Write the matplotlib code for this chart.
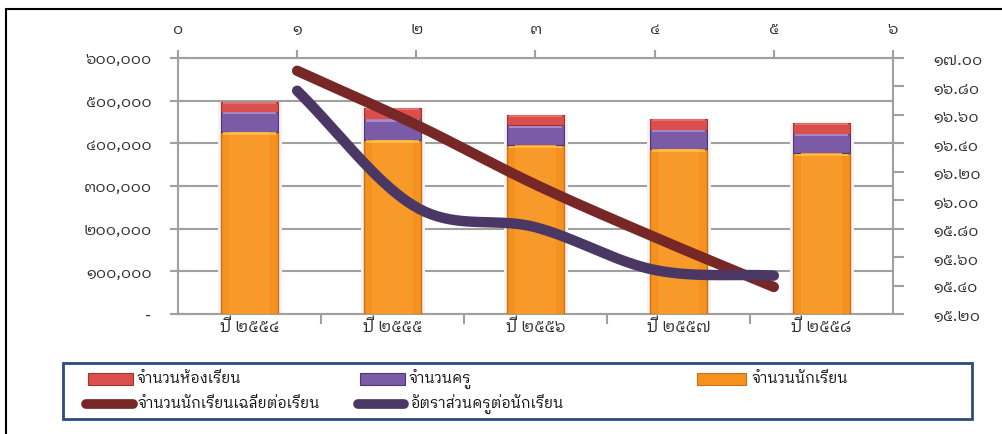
import matplotlib
matplotlib.use("Agg")
import matplotlib.pyplot as plt
import numpy as np
from matplotlib import font_manager as fm
from matplotlib.patches import Rectangle
from matplotlib.lines import Line2D

# ---------------- data ----------------
categories = ["ปี ๒๕๕๔", "ปี ๒๕๕๕", "ปี ๒๕๕๖", "ปี ๒๕๕๗", "ปี ๒๕๕๘"]
students = [427000, 408000, 395000, 387000, 377000]     # จำนวนนักเรียน
teachers = [47000, 49000, 47000, 45000, 46000]          # จำนวนครู
classrooms = [23500, 26000, 25000, 25000, 25000]        # จำนวนห้องเรียน
line_x = [1, 2, 3, 4, 5]
avg_students = [16.91, 16.53, 16.11, 15.74, 15.39]      # จำนวนนักเรียนเฉลี่ยต่อเรียน
teacher_ratio = [16.77, 15.95, 15.81, 15.51, 15.47]     # อัตราส่วนครูต่อนักเรียน

lbl_rooms = "จำนวนห้องเรียน"
lbl_teach = "จำนวนครู"
lbl_stud = "จำนวนนักเรียน"
lbl_avg = "จำนวนนักเรียนเฉลี่ยต่อเรียน"
lbl_ratio = "อัตราส่วนครูต่อนักเรียน"

# ---------------- fonts ----------------
def find_thai_families():
    fams = []
    try:
        from fontTools.ttLib import TTFont
    except Exception:
        return fams
    for f in fm.fontManager.ttflist:
        try:
            tt = TTFont(f.fname, fontNumber=0, lazy=True)
            cmap = tt.getBestCmap()
            if cmap and 0x0E08 in cmap and 0x0E52 in cmap:
                if f.name not in fams:
                    fams.append(f.name)
        except Exception:
            pass
    def score(n):
        s = 0
        nl = n.lower()
        if "thai" in nl: s -= 5
        if "looped" in nl: s -= 2
        if "serif" in nl and "sans" not in nl: s += 3
        if "mono" in nl: s += 4
        return s
    fams.sort(key=score)
    return fams

thai = find_thai_families()
FAM = thai + ["DejaVu Sans"]
plt.rcParams["font.family"] = FAM

TH = str.maketrans("0123456789", "๐๑๒๓๔๕๖๗๘๙")

W, H = 1003, 434
fig = plt.figure(figsize=(W / 100, H / 100), dpi=100)
fig.patch.set_facecolor("white")

L, R, T, B = 178, 893, 58, 314
pos = [L / W, 1 - B / H, (R - L) / W, (B - T) / H]
ax = fig.add_axes(pos)

grey = "#A0A0A0"
txt = "#303030"

x = np.arange(len(categories))
bw = 0.40
stud = np.array(students)
teach = np.array(teachers)
rooms = np.array(classrooms)

# soft shadow
ax.bar(x + 0.005, stud + teach + rooms, bw + 0.05, color="#F2F2F2", zorder=2, linewidth=0)
ax.bar(x, stud, bw, color="#F5921F", edgecolor="#C86F18", linewidth=1.0, zorder=3)
ax.bar(x, stud, bw * 0.7, color="#F89A2A", linewidth=0, zorder=3.2)
ax.bar(x, teach, bw, bottom=stud, color="#7B5BA6", edgecolor="#4E3673", linewidth=0.8, zorder=3)
ax.bar(x, rooms, bw, bottom=stud + teach, color="#DA4F4C", edgecolor="#9E3533", linewidth=0.8, zorder=3)
# highlight strips
ax.bar(x, stud * 0.0 + 6000, bw * 0.92, bottom=stud - 7000, color="#FBC34A", linewidth=0, zorder=3.5, alpha=0.8)
ax.bar(x, teach * 0.0 + 5000, bw * 0.92, bottom=stud + teach - 6000, color="#B195DE", linewidth=0, zorder=3.5, alpha=0.8)
ax.bar(x, rooms * 0.0 + 4000, bw * 0.92, bottom=stud + teach + rooms - 5000, color="#F07A76", linewidth=0, zorder=3.5, alpha=0.8)

ax.set_xlim(-0.5, len(categories) - 0.5)
ax.set_ylim(0, 600000)
yt = np.arange(0, 600001, 100000)
ax.set_yticks(yt)
ax.set_yticklabels(["-" if v == 0 else f"{v:,}".translate(TH) for v in yt], fontsize=11.5, color=txt)
ax.yaxis.grid(True, color=grey, linewidth=1.5, zorder=1)
ax.set_axisbelow(True)
ax.tick_params(axis="y", direction="inout", length=12, width=1.5, color=grey, pad=13)
ax.set_xticks(x)
ax.set_xticklabels(categories, fontsize=12, color=txt)
ax.set_xticks(np.arange(0.5, len(categories) - 0.5, 1), minor=True)
ax.tick_params(axis="x", which="major", length=0, pad=3)
ax.tick_params(axis="x", which="minor", length=7, width=1.5, color=grey, direction="out")
for s in ["left", "bottom", "top", "right"]:
    ax.spines[s].set_color(grey)
    ax.spines[s].set_linewidth(1.5)

# ---------------- secondary axes ----------------
ax2 = fig.add_axes(pos, frameon=False)
ax2.patch.set_visible(False)
ax2.xaxis.tick_top()
ax2.yaxis.tick_right()
ax2.set_xlim(0, 6)
ax2.set_ylim(15.2, 17.0)
ax2.set_xticks(range(0, 7))
ax2.set_xticklabels([str(i).translate(TH) for i in range(0, 7)], fontsize=11.5, color=txt)
yt2 = np.round(np.arange(15.2, 17.001, 0.2), 2)
ax2.set_yticks(yt2)
ax2.set_yticklabels([f"{v:.2f}".translate(TH) for v in yt2], fontsize=11.5, color=txt)
ax2.tick_params(axis="y", direction="out", length=8, width=1.5, color=grey, pad=21)
ax2.tick_params(axis="x", direction="out", length=6, width=1.5, color=grey, pad=9)
ax2.spines["right"].set_visible(True)
ax2.spines["right"].set_color(grey)
ax2.spines["right"].set_linewidth(1.5)


def smooth(xs, ys, n=40):
    xs = np.asarray(xs, float)
    ys = np.asarray(ys, float)
    px = np.concatenate([[2 * xs[0] - xs[1]], xs, [2 * xs[-1] - xs[-2]]])
    py = np.concatenate([[2 * ys[0] - ys[1]], ys, [2 * ys[-1] - ys[-2]]])
    ox, oy = [], []
    for i in range(1, len(px) - 2):
        t = np.linspace(0, 1, n, endpoint=(i == len(px) - 3))
        for P, O in ((px, ox), (py, oy)):
            p0, p1, p2, p3 = P[i - 1], P[i], P[i + 1], P[i + 2]
            O.extend(0.5 * ((2 * p1) + (-p0 + p2) * t + (2 * p0 - 5 * p1 + 4 * p2 - p3) * t ** 2
                            + (-p0 + 3 * p1 - 3 * p2 + p3) * t ** 3))
    return np.array(ox), np.array(oy)

red_line = "#772826"
pur_line = "#4A3763"
sx, sy = smooth(line_x, avg_students)
ax2.plot(sx, sy, color=red_line, linewidth=7.5, solid_capstyle="round", zorder=5)
sx, sy = smooth(line_x, teacher_ratio)
ax2.plot(sx, sy, color=pur_line, linewidth=7.5, solid_capstyle="round", zorder=6)

# ---------------- legend (manual) ----------------
def fx(px_):
    return px_ / W

def fy(py_):
    return 1 - py_ / H

fig.add_artist(Rectangle((fx(63), fy(419)), fx(972) - fx(63), fy(363) - fy(419),
                         transform=fig.transFigure, fill=False, edgecolor="#2E4B7E", linewidth=2))

r1, r2 = 379, 404
lfs = 10.5
def patch_entry(x0, x1, y, col, edge, label, tx):
    fig.add_artist(Rectangle((fx(x0), fy(y + 6)), fx(x1) - fx(x0), fy(y - 6) - fy(y + 6),
                             transform=fig.transFigure, facecolor=col, edgecolor=edge, linewidth=0.8))
    fig.text(fx(tx), fy(y), label, fontsize=lfs, color="#111111", va="center", ha="left")

def line_entry(x0, x1, y, col, label, tx):
    fig.add_artist(Line2D([fx(x0), fx(x1)], [fy(y), fy(y)], transform=fig.transFigure,
                          color=col, linewidth=7, solid_capstyle="round"))
    fig.text(fx(tx), fy(y), label, fontsize=lfs, color="#111111", va="center", ha="left")

patch_entry(88, 133, r1, "#DA4F4C", "#9E3533", lbl_rooms, 137)
patch_entry(360, 405, r1, "#7B5BA6", "#4E3673", lbl_teach, 409)
patch_entry(697, 746, r1, "#F5921F", "#C8701A", lbl_stud, 752)
line_entry(86, 133, r2, red_line, lbl_avg, 138)
line_entry(358, 404, r2, pur_line, lbl_ratio, 410)

# outer frame
fig.add_artist(Rectangle((fx(6), -0.5), 2, fy(9) + 0.5, transform=fig.transFigure,
                         fill=False, edgecolor="#000000", linewidth=1.5))

fig.savefig("out.png", dpi=100)
